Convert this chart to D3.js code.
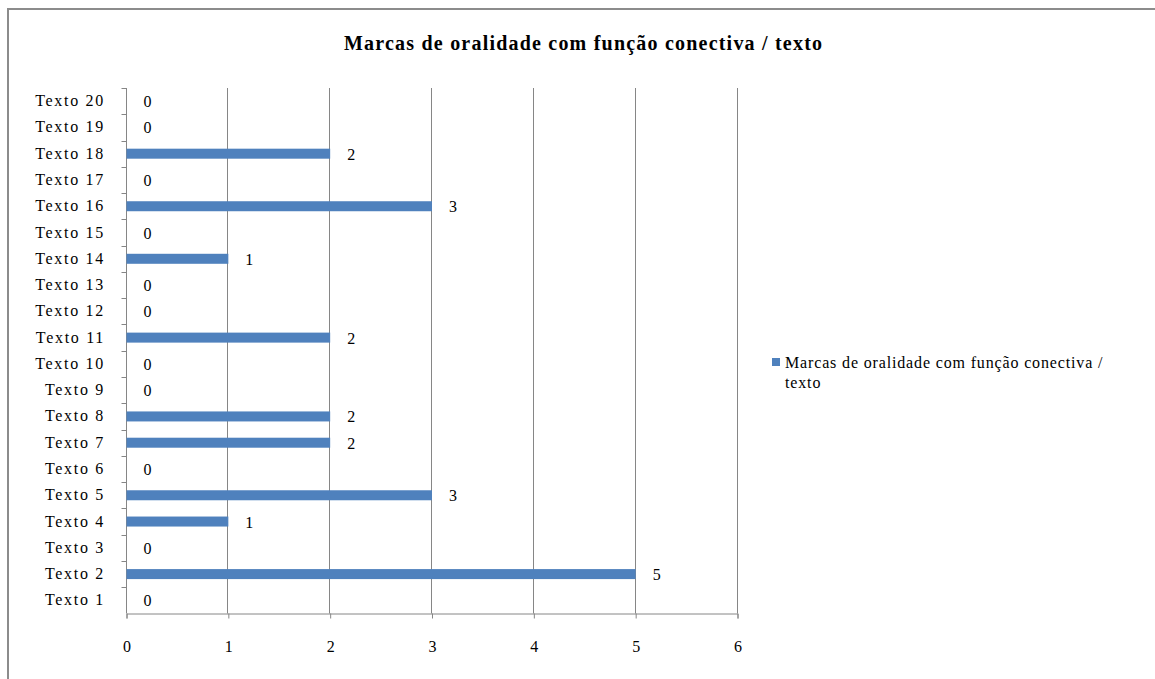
<html>
<head>
  <meta charset="utf-8">
  <title></title>
  <script src="https://cdn.jsdelivr.net/npm/d3@7"></script>
<style type="text/css">
body { margin: 0; background: #fff; }
text { font-family: "Liberation Serif", "Times New Roman", serif; fill: #000; }
</style>
</head>
<body>
<script type="text/javascript">
// chart data
var categories = ['Texto 1', 'Texto 2', 'Texto 3', 'Texto 4', 'Texto 5', 'Texto 6', 'Texto 7',
                  'Texto 8', 'Texto 9', 'Texto 10', 'Texto 11', 'Texto 12', 'Texto 13', 'Texto 14',
                  'Texto 15', 'Texto 16', 'Texto 17', 'Texto 18', 'Texto 19', 'Texto 20'];
var values = [0, 5, 0, 1, 3, 0, 2, 2, 0, 0, 2, 0, 0, 1, 0, 3, 0, 2, 0, 0];
var xTicks = [0, 1, 2, 3, 4, 5, 6];
var seriesName = ['Marcas de oralidade com função conectiva /', 'texto'];
var title = 'Marcas de oralidade com função conectiva / texto';

var w = 1155, h = 679;
var pLeft = 126.5, pRight = 737.5, pTop = 88, pBottom = 613.5;
var barColor = '#4f81bd';
var gridColor = '#868686';

var svg = d3.select('body').append('svg')
  .attr('width', w)
  .attr('height', h);

// outer frame
svg.append('rect')
  .attr('x', 8).attr('y', 9)
  .attr('width', w + 10).attr('height', h + 10)
  .attr('fill', 'none')
  .attr('stroke', '#8c8c8c')
  .attr('stroke-width', 2);

svg.append('text')
  .attr('x', 344).attr('y', 50)
  .attr('font-size', 20)
  .attr('font-weight', 'bold')
  .attr('textLength', 478)
  .attr('lengthAdjust', 'spacing')
  .text(title);

var x = d3.scaleLinear().domain([0, 6]).range([pLeft, pRight]);
var y = d3.scaleBand().domain(categories.slice().reverse()).range([pTop, pBottom]);

// gridlines
svg.append('g').selectAll('line')
  .data(xTicks.slice(1)).enter()
  .append('line')
  .attr('x1', function(d) { return Math.round(x(d)) - 0.5; })
  .attr('x2', function(d) { return Math.round(x(d)) - 0.5; })
  .attr('y1', pTop).attr('y2', pBottom)
  .attr('stroke', gridColor);

// x axis
var xAxis = svg.append('g')
  .attr('transform', 'translate(0,' + pBottom + ')')
  .call(d3.axisBottom(x).tickValues(xTicks).tickSize(5).tickPadding(22).tickFormat(d3.format('d')));
xAxis.select('.domain').attr('stroke', gridColor);
xAxis.selectAll('.tick line').attr('stroke', gridColor);
xAxis.selectAll('text')
  .attr('font-size', 16)
  .attr('font-family', '"Liberation Serif", serif')
  .attr('fill', '#000');

// y axis, ticks on category boundaries
svg.append('line')
  .attr('x1', pLeft).attr('x2', pLeft)
  .attr('y1', pTop).attr('y2', pBottom)
  .attr('stroke', gridColor);
svg.append('g').selectAll('line')
  .data(categories).enter()
  .append('line')
  .attr('x1', pLeft - 5).attr('x2', pLeft)
  .attr('y1', function(d) { return Math.round(y(d)) + 0.5; })
  .attr('y2', function(d) { return Math.round(y(d)) + 0.5; })
  .attr('stroke', gridColor);

svg.append('g').selectAll('text')
  .data(categories).enter()
  .append('text')
  .attr('x', 105)
  .attr('y', function(d) { return y(d) + y.bandwidth() / 2 + 5; })
  .attr('text-anchor', 'end')
  .attr('font-size', 16)
  .attr('letter-spacing', 1.7)
  .text(function(d) { return d; });

// bars
var barH = 10;
svg.append('g').selectAll('rect')
  .data(values).enter()
  .append('rect')
  .attr('x', x(0))
  .attr('y', function(d, i) { return y(categories[i]) + y.bandwidth() / 2 - barH / 2; })
  .attr('width', function(d) { return x(d) - x(0); })
  .attr('height', barH)
  .attr('fill', barColor);

// value labels
svg.append('g').selectAll('text')
  .data(values).enter()
  .append('text')
  .attr('x', function(d) { return x(d) + 17; })
  .attr('y', function(d, i) { return y(categories[i]) + y.bandwidth() / 2 + 6; })
  .attr('font-size', 16)
  .text(function(d) { return d; });

// legend
svg.append('rect')
  .attr('x', 772).attr('y', 358)
  .attr('width', 8).attr('height', 8)
  .attr('fill', barColor);
var lg = svg.append('text')
  .attr('x', 785).attr('y', 368)
  .attr('font-size', 16)
  .attr('letter-spacing', 0.85);
lg.selectAll('tspan')
  .data(seriesName).enter()
  .append('tspan')
  .attr('x', 785)
  .attr('dy', function(d, i) { return i ? 20 : 0; })
  .text(function(d) { return d; });

</script>
</body>
</html>
